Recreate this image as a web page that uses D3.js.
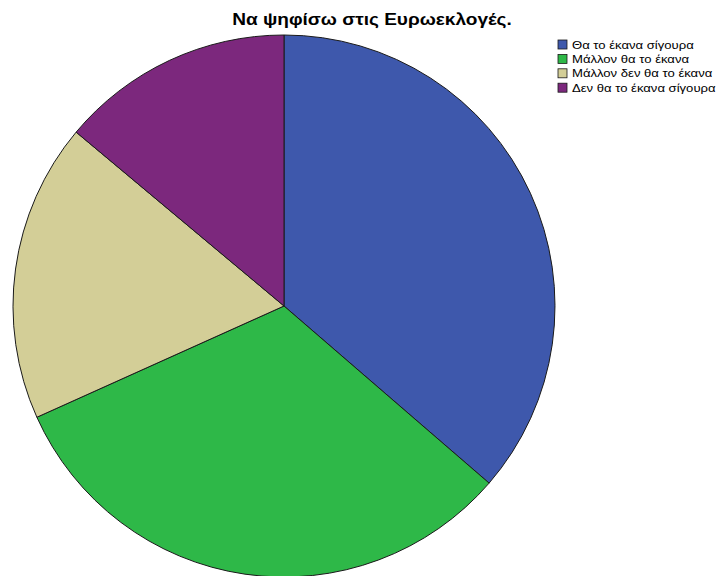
<!DOCTYPE html>
<html>
<head>
<meta charset="utf-8">
<script src="https://cdn.jsdelivr.net/npm/d3@7"></script>
<style>
  html, body { margin: 0; padding: 0; background: #fff; }
  svg { display: block; }
</style>
</head>
<body>
<svg id="chart" width="718" height="576"></svg>
<script>
const title = "Να ψηφίσω στις Ευρωεκλογές.";
const categories = ["Θα το έκανα σίγουρα", "Μάλλον θα το έκανα", "Μάλλον δεν θα το έκανα", "Δεν θα το έκανα σίγουρα"];
const values = [36.3, 31.9, 17.8, 13.9];
const colors = ["#3E58AC", "#2EB848", "#D3CE97", "#7C287D"];

const svg = d3.select("#chart");
const cx = 284, cy = 306, r = 271;

const pie = d3.pie().sort(null).value(d => d.v).startAngle(0).endAngle(2 * Math.PI);
const data = categories.map((c, i) => ({ c, v: values[i], col: colors[i] }));
const arc = d3.arc().innerRadius(0).outerRadius(r);

svg.append("g").attr("transform", `translate(${cx},${cy})`)
  .selectAll("path").data(pie(data)).join("path")
  .attr("d", arc)
  .attr("fill", d => d.data.col)
  .attr("stroke", "#1a1a1a")
  .attr("stroke-width", 1);

svg.append("g").attr("transform", "translate(372,25) scale(1.19,1)")
  .append("text")
  .attr("text-anchor", "middle")
  .attr("font-family", "Liberation Sans, Arial, sans-serif")
  .attr("font-weight", "bold")
  .attr("font-size", 16)
  .attr("fill", "#000")
  .text(title);

const leg = svg.append("g").attr("transform", "translate(558,40)");
const rows = leg.selectAll("g").data(data).join("g")
  .attr("transform", (d, i) => `translate(0,${i * 14.4})`);
rows.append("rect").attr("width", 9).attr("height", 9)
  .attr("fill", d => d.col).attr("stroke", "#1a1a1a").attr("stroke-width", 0.8);
rows.append("text")
  .attr("transform", "translate(14,8.5) scale(1.19,1)")
  .attr("font-family", "Liberation Sans, Arial, sans-serif")
  .attr("font-size", 11).attr("fill", "#000")
  .text(d => d.c);
</script>
</body>
</html>
